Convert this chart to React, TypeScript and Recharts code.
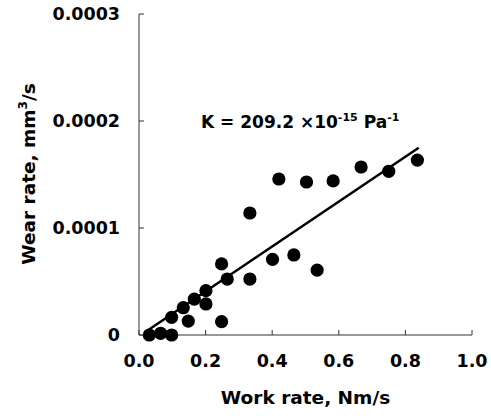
import { ScatterChart, Scatter, XAxis, YAxis, ReferenceLine } from 'recharts'

// work rate (Nm/s) vs wear rate (mm^3/s)
const workRate = [0.031, 0.065, 0.098, 0.098, 0.133, 0.148, 0.166, 0.201, 0.201, 0.248, 0.248, 0.265, 0.333, 0.333, 0.401, 0.42, 0.465, 0.503, 0.535, 0.583, 0.667, 0.75, 0.836]
const wearRate = [0, 0.0000016, 0, 0.0000165, 0.0000255, 0.000013, 0.0000336, 0.000029, 0.0000414, 0.0000125, 0.0000664, 0.0000523, 0.0000523, 0.000114, 0.0000707, 0.0001458, 0.0000748, 0.000143, 0.0000607, 0.000144, 0.000157, 0.000153, 0.0001635]

// fitted line end points
const fitX = [0.02, 0.84]
const fitY = [0.000003, 0.000175]

const xTicks = [0, 0.2, 0.4, 0.6, 0.8, 1.0]
const yTicks = [0, 0.0001, 0.0002, 0.0003]

const points = workRate.map((x, i) => ({ x, y: wearRate[i] }))
const segment = fitX.map((x, i) => ({ x, y: fitY[i] }))

const FONT = '"DejaVu Sans", sans-serif'
const tickStyle = { fill: '#000', fontSize: 17.5, fontWeight: 700, fontFamily: FONT }

function Dot(p: { cx?: number; cy?: number }) {
  return <circle cx={p.cx} cy={p.cy} r={6.6} fill="#000" />
}

function YLabel() {
  return (
    <text transform="translate(35,174) rotate(-90)" textAnchor="middle" fontFamily={FONT} fontWeight={700} fontSize={18.5} fill="#000">
      Wear rate, mm<tspan dy={-8} fontSize={12}>3</tspan><tspan dy={8}>/s</tspan>
    </text>
  )
}

export default function App() {
  return (
    <div style={{ position: 'absolute', left: 0, top: 0, width: 491, height: 416, background: '#fff' }}>
      <ScatterChart width={491} height={416} margin={{ top: 14, right: 19, bottom: 0, left: 0 }}>
        <XAxis
          type="number" dataKey="x" domain={[0, 1]} ticks={xTicks} height={81}
          tickFormatter={(v) => Number(v).toFixed(1)}
          tick={tickStyle} tickSize={-5} tickMargin={25}
          stroke="#333"
          label={{ value: 'Work rate, Nm/s', position: 'insideBottom', offset: 12, fill: '#000', fontSize: 18.5, fontWeight: 700, fontFamily: FONT }}
        />
        <YAxis
          type="number" dataKey="y" domain={[0, 0.0003]} ticks={yTicks} width={139}
          tickFormatter={(v) => (v === 0 ? '0' : Number(v).toFixed(4))}
          tick={tickStyle} tickSize={-5} tickMargin={24}
          stroke="#333"
          label={{ content: <YLabel /> }}
        />
        <ReferenceLine segment={segment} stroke="#000" strokeWidth={2.5} ifOverflow="visible" />
        <Scatter data={points} fill="#000" shape={<Dot />} isAnimationActive={false} />
      </ScatterChart>
      <svg width={491} height={416} style={{ position: 'absolute', left: 0, top: 0, pointerEvents: 'none' }}>
        <text x={201} y={128} fontFamily={FONT} fontWeight={700} fontSize={17} fill="#000">
          K = 209.2 ×10<tspan dy={-7} fontSize={11}>-15</tspan><tspan dy={7}> Pa</tspan><tspan dy={-7} fontSize={11}>-1</tspan>
        </text>
      </svg>
    </div>
  )
}
